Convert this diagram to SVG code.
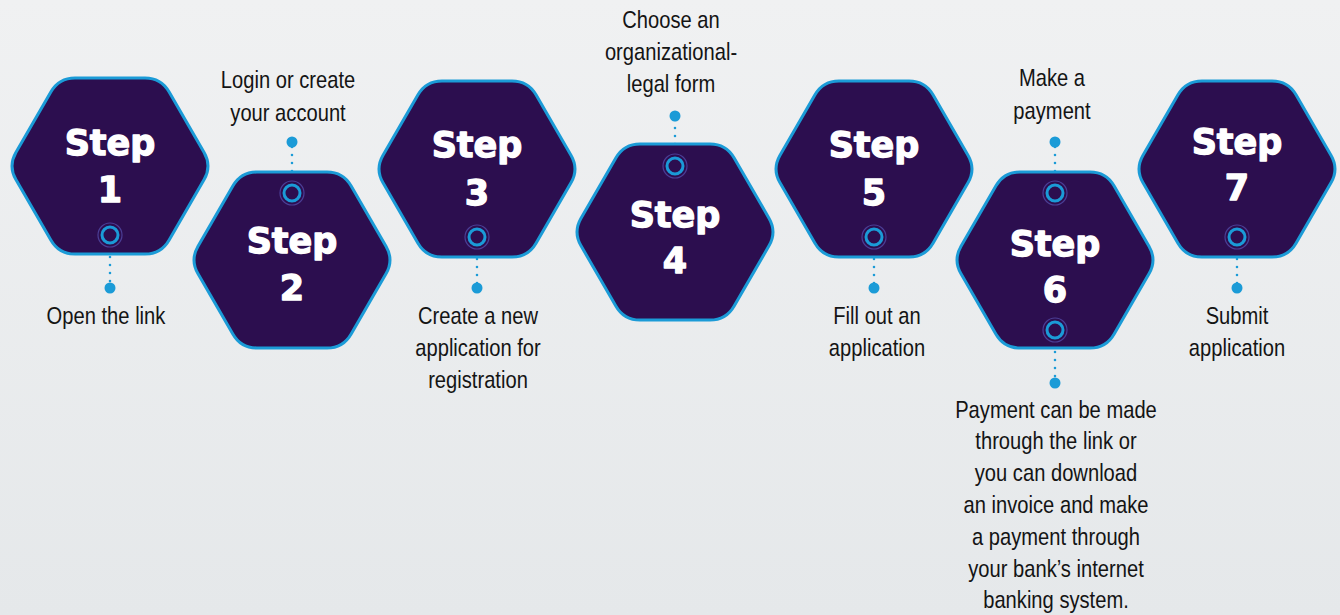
<svg xmlns="http://www.w3.org/2000/svg" width="1340" height="615" viewBox="0 0 1340 615">
<defs>
<linearGradient id="bg" x1="0" y1="0" x2="0" y2="1">
<stop offset="0" stop-color="#f0f1f2"/>
<stop offset="1" stop-color="#e5e8ea"/>
</linearGradient>
<path id="hex" d="M-93.98,-13.85 L-59.02,-74.15 Q-51,-88 -35,-88 L35,-88 Q51,-88 59.02,-74.15 L93.98,-13.85 Q102,0 93.98,13.85 L59.02,74.15 Q51,88 35,88 L-35,88 Q-51,88 -59.02,74.15 L-93.98,13.85 Q-102,0 -93.98,-13.85 Z"/>
<g id="ring">
<circle r="12" fill="none" stroke="#4b3e95" stroke-width="1.2"/>
<circle r="8" fill="#2c0e4f" stroke="#1b9bd7" stroke-width="3"/>
</g>
</defs>
<style>
.hx{fill:#2c0e4f;stroke:#1b9bd7;stroke-width:3}
.st{font-family:"DejaVu Sans",sans-serif;font-weight:bold;font-size:35px;fill:#ffffff;stroke:#ffffff;stroke-width:1.3;stroke-linejoin:round;text-anchor:middle}
.lb{font-family:"Liberation Sans",Arial,sans-serif;font-size:24px;fill:#141414;text-anchor:middle}
.dl{stroke:#1b9bd7;stroke-width:2.6;stroke-linecap:round;stroke-dasharray:0 8;fill:none}
.dot{fill:#1b9bd7}
</style>
<rect width="1340" height="615" fill="url(#bg)"/>

<g id="connectors">
<line class="dl" x1="110" y1="249" x2="110" y2="285"/>
<circle class="dot" cx="110" cy="288" r="5.5"/>
<line class="dl" x1="292" y1="179" x2="292" y2="145"/>
<circle class="dot" cx="292" cy="142" r="5.5"/>
<line class="dl" x1="477" y1="251" x2="477" y2="285"/>
<circle class="dot" cx="477" cy="288" r="5.5"/>
<line class="dl" x1="675" y1="152" x2="675" y2="119"/>
<circle class="dot" cx="675" cy="116" r="5.5"/>
<line class="dl" x1="874" y1="251" x2="874" y2="285"/>
<circle class="dot" cx="874" cy="288" r="5.5"/>
<line class="dl" x1="1055" y1="179" x2="1055" y2="145"/>
<circle class="dot" cx="1055" cy="142" r="5.5"/>
<line class="dl" x1="1055" y1="344" x2="1055" y2="380"/>
<circle class="dot" cx="1055" cy="383" r="5.5"/>
<line class="dl" x1="1237" y1="251" x2="1237" y2="285"/>
<circle class="dot" cx="1237" cy="288" r="5.5"/>
</g>

<g id="step1">
<use href="#hex" class="hx" x="110" y="166"/>
<text class="st" x="110" y="155">Step</text>
<text class="st" x="110" y="202">1</text>
<use href="#ring" x="110" y="235"/>
<text class="lb" transform="matrix(0.84 0 0 1 106 0)" y="324">Open the link</text>
</g>

<g id="step2">
<use href="#hex" class="hx" x="292" y="260"/>
<text class="st" x="292" y="253">Step</text>
<text class="st" x="292" y="300">2</text>
<use href="#ring" x="292" y="193"/>
<text class="lb" transform="matrix(0.84 0 0 1 288 0)" y="88">Login or create</text>
<text class="lb" transform="matrix(0.84 0 0 1 288 0)" y="121">your account</text>
</g>

<g id="step3">
<use href="#hex" class="hx" x="477" y="169"/>
<text class="st" x="477" y="157">Step</text>
<text class="st" x="477" y="205">3</text>
<use href="#ring" x="477" y="237"/>
<text class="lb" transform="matrix(0.84 0 0 1 478 0)" y="324">Create a new</text>
<text class="lb" transform="matrix(0.84 0 0 1 478 0)" y="356">application for</text>
<text class="lb" transform="matrix(0.84 0 0 1 478 0)" y="388">registration</text>
</g>

<g id="step4">
<use href="#hex" class="hx" x="675" y="232"/>
<text class="st" x="675" y="227">Step</text>
<text class="st" x="675" y="273">4</text>
<use href="#ring" x="675" y="166"/>
<text class="lb" transform="matrix(0.84 0 0 1 671 0)" y="28">Choose an</text>
<text class="lb" transform="matrix(0.84 0 0 1 671 0)" y="60">organizational-</text>
<text class="lb" transform="matrix(0.84 0 0 1 671 0)" y="92">legal form</text>
</g>

<g id="step5">
<use href="#hex" class="hx" x="874" y="169"/>
<text class="st" x="874" y="157">Step</text>
<text class="st" x="874" y="205">5</text>
<use href="#ring" x="874" y="237"/>
<text class="lb" transform="matrix(0.84 0 0 1 877 0)" y="324">Fill out an</text>
<text class="lb" transform="matrix(0.84 0 0 1 877 0)" y="356">application</text>
</g>

<g id="step6">
<use href="#hex" class="hx" x="1055" y="260"/>
<text class="st" x="1055" y="256">Step</text>
<text class="st" x="1055" y="302">6</text>
<use href="#ring" x="1055" y="193"/>
<use href="#ring" x="1055" y="330"/>
<text class="lb" transform="matrix(0.84 0 0 1 1052 0)" y="86">Make a</text>
<text class="lb" transform="matrix(0.84 0 0 1 1052 0)" y="119">payment</text>
<text class="lb" transform="matrix(0.84 0 0 1 1056 0)" y="418">Payment can be made</text>
<text class="lb" transform="matrix(0.84 0 0 1 1056 0)" y="449">through the link or</text>
<text class="lb" transform="matrix(0.84 0 0 1 1056 0)" y="481">you can download</text>
<text class="lb" transform="matrix(0.84 0 0 1 1056 0)" y="513">an invoice and make</text>
<text class="lb" transform="matrix(0.84 0 0 1 1056 0)" y="545">a payment through</text>
<text class="lb" transform="matrix(0.84 0 0 1 1056 0)" y="577">your bank’s internet</text>
<text class="lb" transform="matrix(0.84 0 0 1 1056 0)" y="608">banking system.</text>
</g>

<g id="step7">
<use href="#hex" class="hx" x="1237" y="169"/>
<text class="st" x="1237" y="154">Step</text>
<text class="st" x="1237" y="200">7</text>
<use href="#ring" x="1237" y="237"/>
<text class="lb" transform="matrix(0.84 0 0 1 1237 0)" y="324">Submit</text>
<text class="lb" transform="matrix(0.84 0 0 1 1237 0)" y="356">application</text>
</g>
</svg>
